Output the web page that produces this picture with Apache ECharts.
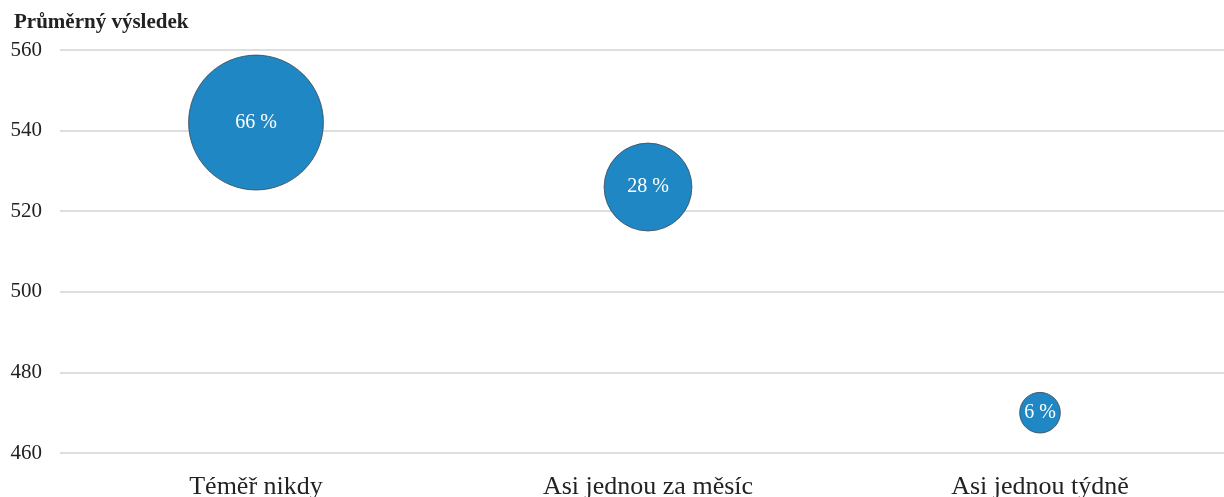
<!DOCTYPE html>
<html>
<head>
<meta charset="utf-8">
<script src="https://cdn.jsdelivr.net/npm/echarts@6/dist/echarts.min.js"></script>
<style>html,body{margin:0;padding:0;background:#fff}#c{width:1224px;height:497px}</style>
</head>
<body>
<div id="c"></div>
<script>
var categories = ['Téměř nikdy', 'Asi jednou za měsíc', 'Asi jednou týdně'];
var scores = [542, 526, 470];
var shares = [66, 28, 6];
var yTitle = 'Průměrný výsledek';

var chart = echarts.init(document.getElementById('c'));
var font = 'Liberation Serif, Times New Roman, serif';
var idx = categories.map(function (c, i) { return i; });
chart.setOption({
  animation: false,
  grid: { left: 60, right: 0, top: 50, height: 403, containLabel: false, outerBoundsMode: 'none' },
  title: { text: yTitle, left: 9, top: 7, textStyle: { fontFamily: font, fontWeight: 'bold', fontSize: 21, color: '#222' } },
  xAxis: {
    type: 'value', min: -0.5, max: 2.4694,
    splitLine: { show: false },
    axisLine: { show: false }, axisTick: { show: false },
    axisLabel: {
      customValues: idx,
      formatter: function (v) { return categories[Math.round(v)] || ''; },
      fontFamily: font, fontSize: 26, color: '#222', margin: 21
    }
  },
  yAxis: {
    type: 'value', min: 460, max: 560, interval: 20,
    axisLine: { show: false }, axisTick: { show: false },
    axisLabel: { fontFamily: font, fontSize: 21, color: '#222', margin: 18 },
    splitLine: { lineStyle: { color: '#d3d3d3', width: 1.5 } }
  },
  series: [{
    type: 'scatter',
    data: scores.map(function (v, i) { return [i, v, shares[i]]; }),
    symbolSize: function (d) { return 16.6 * Math.sqrt(d[2]); },
    itemStyle: { color: '#1f87c4', borderColor: '#3b4652', borderWidth: 0.8, opacity: 1 },
    label: {
      show: true, position: 'inside',
      formatter: function (p) { return p.data[2] + ' %'; },
      fontFamily: font, fontSize: 20, color: '#fff'
    }
  }]
});
</script>
</body>
</html>
